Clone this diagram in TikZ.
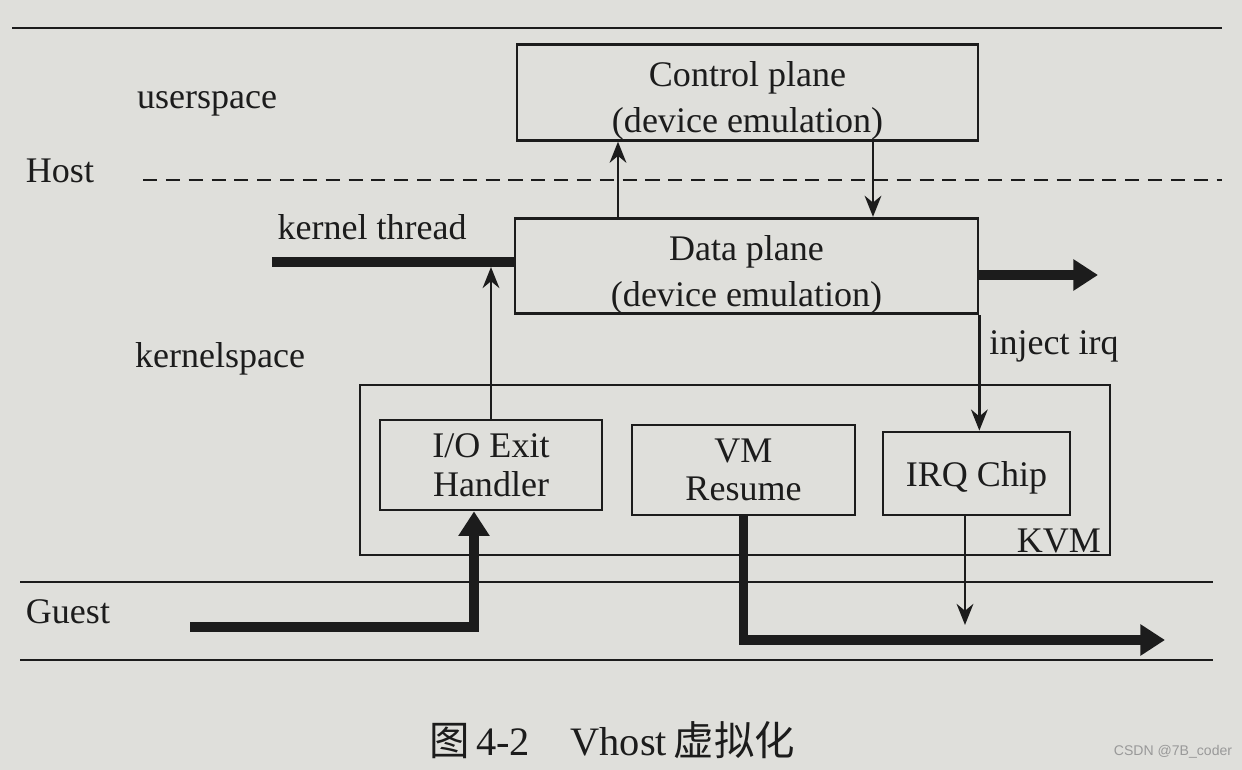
\documentclass[tikz,border=0pt]{standalone}
\usepackage{fontspec}
\setmainfont{Liberation Serif}
\newfontfamily\cjk{Noto Sans CJK SC}
\newfontfamily\wmfont{Liberation Sans}
\usetikzlibrary{arrows.meta,calc}
\definecolor{paper}{RGB}{223,223,219}
\definecolor{ink}{RGB}{28,28,28}
\newcommand\dfont{\fontsize{20.5}{26}\selectfont}
\newcommand\sfont{\fontsize{20.5}{22}\selectfont}
\newcommand\topstrut{\rule{0pt}{24pt}}
\begin{document}
\begin{tikzpicture}[x=0.02cm,y=-0.02cm,
  box/.style={draw=ink,line width=1.6pt,rectangle,inner sep=0pt,align=center,font=\dfont,text=ink},
  sbox/.style={box,font=\sfont},
  lab/.style={font=\dfont,text=ink,inner sep=0pt},
  thinline/.style={draw=ink,line width=1.5pt},
  arr/.style={thinline,-{Stealth[length=12pt,width=9.5pt]}},
  bold/.style={draw=ink,line width=5.5pt},
  barr/.style={bold,-{Triangle[length=14pt,width=17pt]}},
]
\fill[paper] (0,0) rectangle (1242,770);
\useasboundingbox (0,0) rectangle (1242,770);

% separator lines
\coordinate (tl) at (12,28); \coordinate (tr) at (1222,28);
\draw[thinline] (tl) -- (tr);
\coordinate (dl) at (143,180); \coordinate (dr) at (1222,180);
\draw[thinline,dash pattern=on 8pt off 5pt] (dl) -- (dr);
\coordinate (g1l) at (20,582); \coordinate (g1r) at (1213,582);
\draw[thinline] (g1l) -- (g1r);
\coordinate (g2l) at (20,660); \coordinate (g2r) at (1213,660);
\draw[thinline] (g2l) -- (g2r);

% boxes
\node[box,minimum width=15cm,minimum height=3.4cm] (kvm) at (735,470) {};
\node[box,minimum width=9.22cm,minimum height=1.9cm] (ctrl) at (747.5,92.5) {\topstrut Control plane\\(device emulation)};
\node[box,minimum width=9.26cm,minimum height=1.84cm] (data) at (746.5,266) {\topstrut Data plane\\(device emulation)};
\node[sbox,minimum width=4.44cm,minimum height=1.8cm] (io) at (491,465) {I/O Exit\\Handler};
\node[sbox,minimum width=4.46cm,minimum height=1.8cm] (vm) at (743.5,470) {VM\\Resume};
\node[sbox,minimum width=3.74cm,minimum height=1.66cm] (irq) at (976.5,473.5) {\rule{0pt}{19pt}IRQ Chip};
\node[lab,anchor=base east] (kvmlab) at ($(kvm.south east)+(-10,-4)$) {KVM};

% labels
\node[lab] (us) at (207,104) {userspace};
\node[lab] (host) at (60,171) {Host};
\node[lab] (kt) at (372,227) {kernel thread};
\node[lab] (ks) at (220,359) {kernelspace};
\node[lab] (ii) at (1054,346) {inject irq};
\node[lab] (guest) at (68,612) {Guest};

% connectors
\coordinate (ktl) at (272,262);
\draw[bold] (ktl) -- (ktl -| data.west);
\coordinate (x618) at (618,0);
\draw[arr] (data.north -| x618) -- (ctrl.south -| x618);
\coordinate (x873) at (873,0);
\draw[arr] (ctrl.south -| x873) -- (data.north -| x873);
\coordinate (dout) at (1098,275);
\draw[barr] (data.east |- dout) -- (dout);
\draw[arr] (data.south east) -- (data.south east |- irq.north);
\coordinate (ktb) at (0,267);
\draw[arr] (io.north) -- (io.north |- ktb);
\coordinate (gin) at (190,627);
\coordinate (gx) at (474,0);
\draw[barr] (gin) -- (gin -| gx) -- (io.south -| gx);
\coordinate (vout) at (1165,640);
\draw[barr] (vm.south) -- (vm.south |- vout) -- (vout);
\coordinate (irqout) at (965,625);
\draw[arr] (irq.south -| irqout) -- (irqout);

% caption and watermark
\node[text=ink,inner sep=0pt,font=\fontsize{23}{27}\selectfont] (cap) at (612,740) {{\cjk 图}\,4-2\quad Vhost\,{\cjk 虚拟化}};
\node[text=black!40,inner sep=0pt,font=\wmfont\fontsize{8}{9}\selectfont] (wm) at (1173,752) {CSDN @7B\_coder};
\end{tikzpicture}
\end{document}
